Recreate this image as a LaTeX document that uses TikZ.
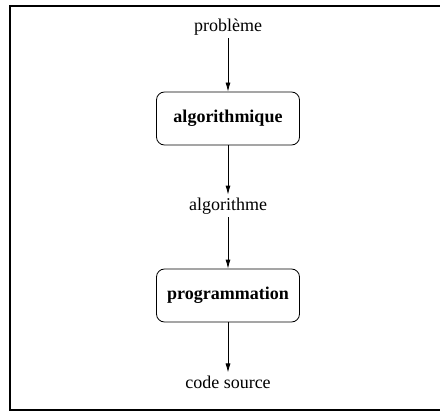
\documentclass[tikz,border=0pt]{standalone}
\usepackage{fontspec}
\setmainfont{Liberation Serif}
\usetikzlibrary{arrows.meta}

\begin{document}
\begin{tikzpicture}[x=1pt, y=-1pt,
		etape/.style={draw, rounded corners=8pt, line width=0.8pt, minimum width=143pt, minimum height=53pt, font=\fontsize{18}{21}\selectfont\bfseries},
		texte/.style={inner sep=3pt, font=\fontsize{18}{21}\selectfont},
		fleche/.style={line width=0.8pt, -{Latex[length=9pt, width=5pt]}}]
		%%%%% START %%%%%
		
		\useasboundingbox (0, 0) rectangle (440, 412);
		\draw[line width=2pt] (441, 6) -- (10, 6) -- (10, 410) -- (441, 410);
		
		\node[texte] (probleme) at (228, 27) {problème};
		\node[etape] (algorithmique) at (228, 118.5) {algorithmique};
		\node[texte] (algorithme) at (228, 206) {algorithme};
		\node[etape] (programmation) at (228, 295.5) {programmation};
		\node[texte] (code) at (228, 382) {code source};
		
		\draw[fleche] (probleme) -- (algorithmique);
		\draw[fleche] (algorithmique) -- (algorithme);
		\draw[fleche] (algorithme) -- (programmation);
		\draw[fleche] (programmation) -- (code);
		
		%%%%% END %%%%%
	\end{tikzpicture}
\end{document}
